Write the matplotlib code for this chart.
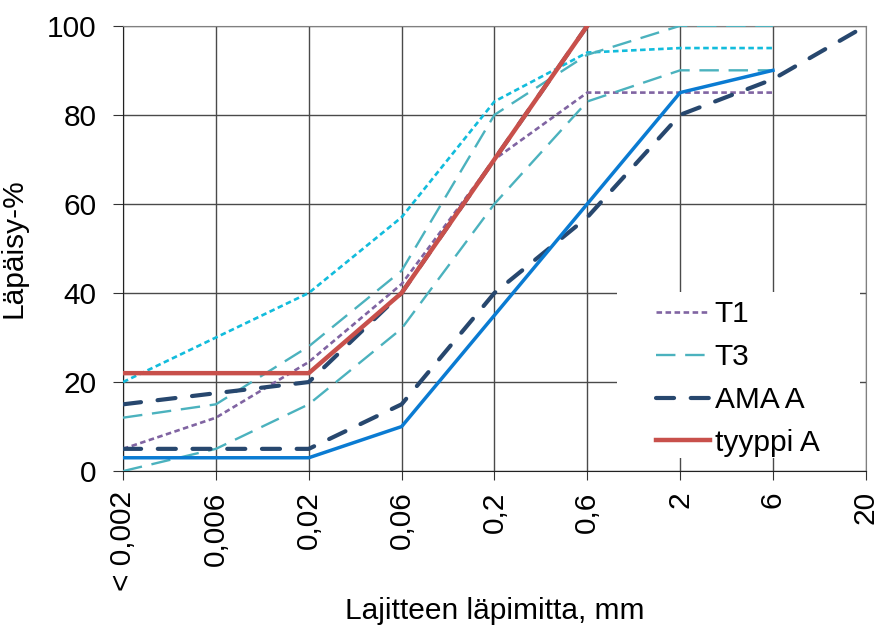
import numpy as np
import matplotlib
matplotlib.use("Agg")
import matplotlib.pyplot as plt
from matplotlib.patches import Rectangle

plt.rcParams['font.family'] = ['Liberation Sans', 'DejaVu Sans']
plt.rcParams['lines.scale_dashes'] = False

# grain size classes (x axis categories)
sizes = ['< 0,002', '0,006', '0,02', '0,06', '0,2', '0,6', '2', '6', '20']

# passing percentages
t1 = [5, 12, 24.5, 42, 70, 85, 85, 85]
t1_upper = [20, 30, 40, 57, 83, 94, 95, 95]
t3_upper = [12, 15, 28, 45, 80, 93.5, 100, 100]
t3_lower = [0, 5, 15, 32, 60, 83, 90, 90]
ama_upper = [15, 17.5, 20, 40, 70, 100]
ama_lower = [5, 5, 5, 15, 40, 57, 80, 88, 100]
tyyppi_a = [22, 22, 22, 40, 70, 100]
blue_line = [3, 3, 3, 10, 35, 60, 85, 90]

fig = plt.figure(figsize=(8.79, 6.29), dpi=100)
ax = fig.add_axes([0.140, 0.251, 0.845, 0.708])

x = np.arange(len(sizes))

ax.plot(x[:len(t1)], t1, color='#8064A2', lw=1.9, dashes=(4, 2.5), label='T1', zorder=3)
ax.plot(x[:len(t1_upper)], t1_upper, color='#12BCDC', lw=1.9, dashes=(4, 2.5), zorder=3)
ax.plot(x[:len(t3_upper)], t3_upper, color='#4BB2BE', lw=1.7, dashes=(14, 7), label='T3', zorder=3)
ax.plot(x[:len(t3_lower)], t3_lower, color='#4BB2BE', lw=1.7, dashes=(14, 7), zorder=3)
ax.plot(x[:len(ama_lower)], ama_lower, color='#27476E', lw=3, dashes=(13, 12),
        dash_capstyle='round', label='AMA A', zorder=4)
ax.plot(x[:len(ama_upper)], ama_upper, color='#27476E', lw=3, dashes=(13, 12),
        dash_capstyle='round', zorder=4)
ax.plot(x[:len(blue_line)], blue_line, color='#0A7BD2', lw=2.5, zorder=5)
ax.plot(x[:len(tyyppi_a)], tyyppi_a, color='#C8504B', lw=3.2, label='tyyppi A', zorder=6)

ax.set_xlim(0, len(sizes) - 1)
ax.set_ylim(0, 100)
ax.set_xticks(x)
ax.set_xticklabels(sizes, rotation=90, va='top', ha='center')
ax.set_yticks(np.arange(0, 101, 20))
ax.tick_params(axis='both', labelsize=21.5, direction='out', color='#333333')
ax.tick_params(axis='y', length=7, pad=12)
ax.tick_params(axis='x', length=6.5, pad=8)

ax.grid(True, color='#4a4a4a', lw=1)
ax.set_axisbelow(True)
for side in ['left', 'bottom']:
    ax.spines[side].set_color('#222222')
for side in ['top', 'right']:
    ax.spines[side].set_color('#808080')

ax.set_xlabel('Lajitteen läpimitta, mm', fontsize=21.5, labelpad=4)
ax.set_ylabel('Läpäisy-%', fontsize=21.5, labelpad=14)

# white legend area hiding the grid
ax.add_patch(Rectangle((0.665, 0.029), 0.327, 0.373, transform=ax.transAxes,
                       facecolor='white', edgecolor='none', zorder=2))

leg = ax.legend(loc='upper left', bbox_to_anchor=(0.718, 0.384), fontsize=21.5,
                frameon=False, handlelength=1.8, handletextpad=0.15,
                labelspacing=0.5, borderpad=0, borderaxespad=0)

fig.savefig('out.png', dpi=100)
